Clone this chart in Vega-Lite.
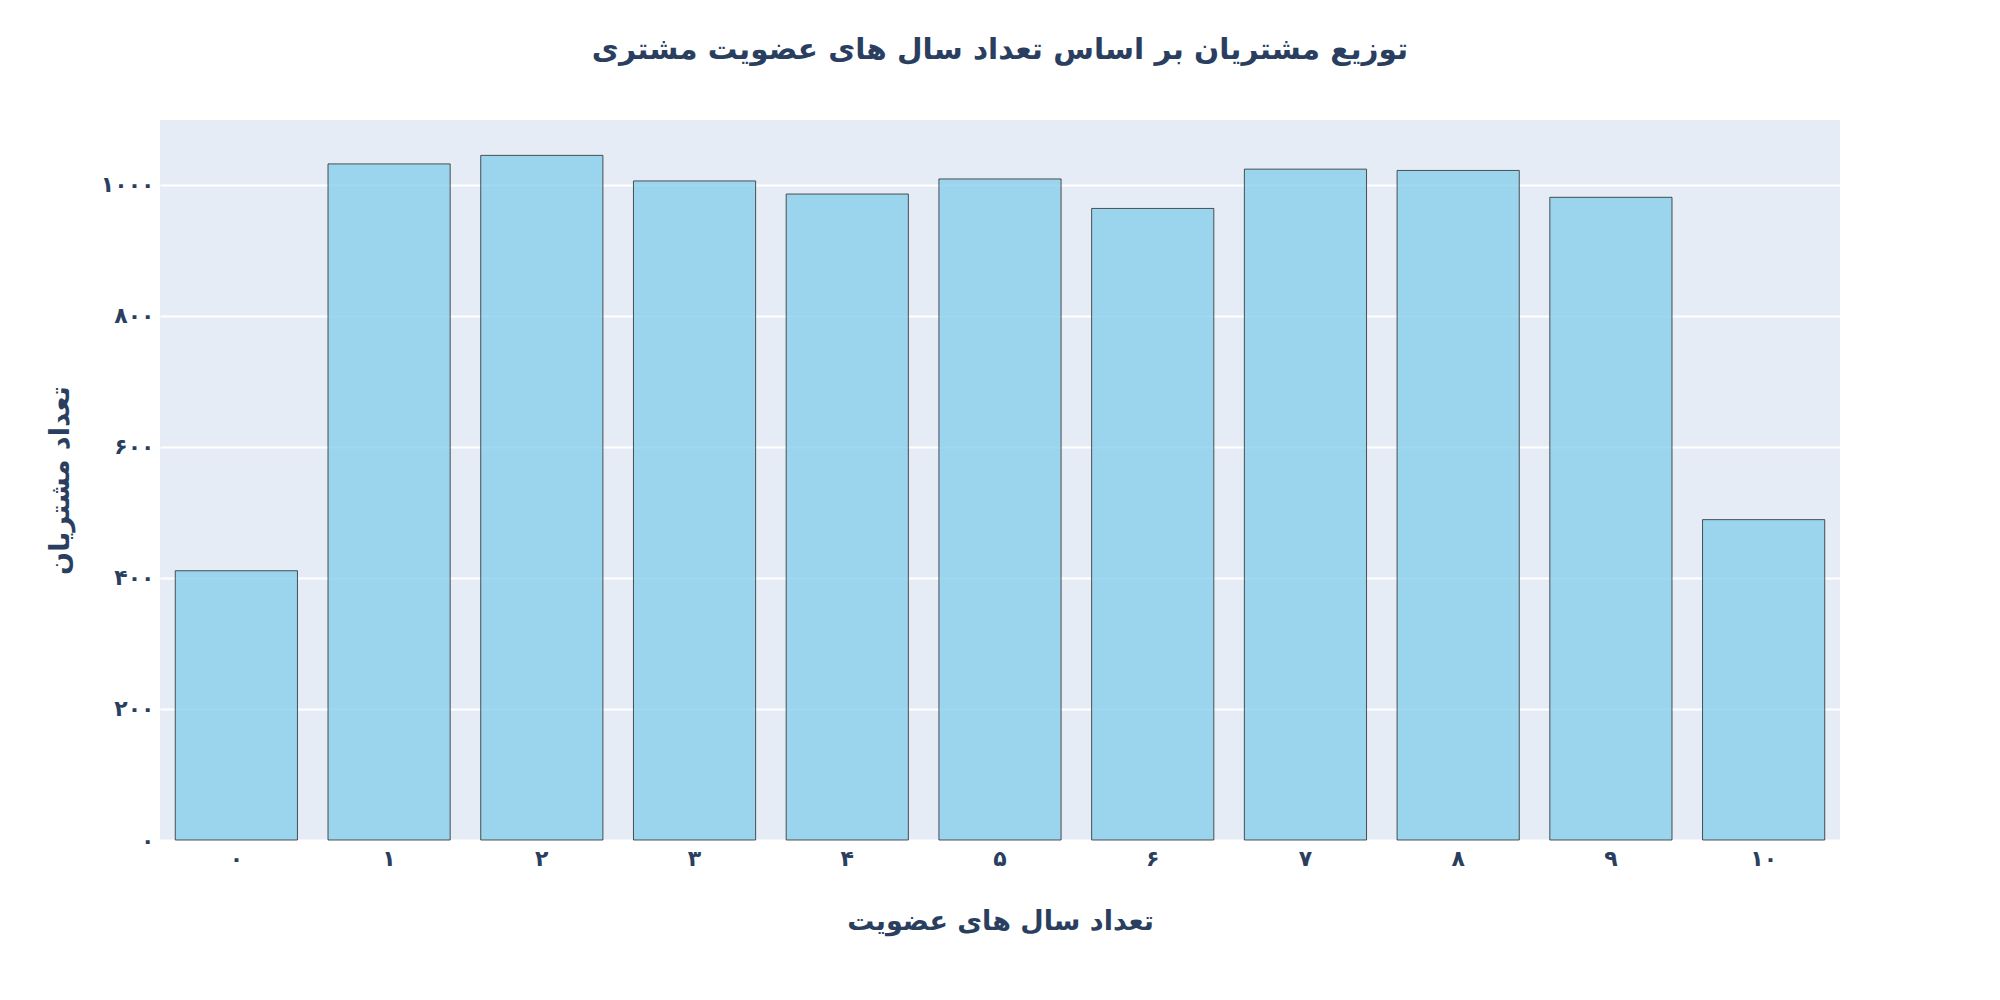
{
  "$schema": "https://vega.github.io/schema/vega-lite/v6.json",
  "autosize": {"type": "none"},
  "padding": {"left": 160, "top": 120, "right": 160, "bottom": 160},
  "width": 1680,
  "height": 720,
  "background": "white",
  "title": {
    "text": "توزیع مشتریان بر اساس تعداد سال های عضویت مشتری",
    "anchor": "middle",
    "font": "DejaVu Sans",
    "fontSize": 29.5,
    "fontWeight": "bold",
    "color": "#2a3f5f",
    "offset": 55
  },
  "config": {
    "view": {"fill": "#E5ECF6", "stroke": null},
    "axis": {
      "labelFont": "DejaVu Sans",
      "labelFontWeight": "bold",
      "labelColor": "#2a3f5f",
      "titleFont": "DejaVu Sans",
      "titleFontWeight": "bold",
      "titleColor": "#2a3f5f",
      "domain": false,
      "ticks": false
    }
  },
  "data": {
    "values": [
      {"years": 0, "count": 411},
      {"years": 1, "count": 1032},
      {"years": 2, "count": 1045},
      {"years": 3, "count": 1006},
      {"years": 4, "count": 986},
      {"years": 5, "count": 1009},
      {"years": 6, "count": 964},
      {"years": 7, "count": 1024},
      {"years": 8, "count": 1022},
      {"years": 9, "count": 981},
      {"years": 10, "count": 489}
    ]
  },
  "mark": {"type": "bar", "fill": "#87CEEB", "fillOpacity": 0.8, "stroke": "#2a2a2a", "strokeWidth": 1, "strokeOpacity": 0.8},
  "encoding": {
    "x": {
      "field": "years",
      "type": "ordinal",
      "scale": {"paddingInner": 0.2, "paddingOuter": 0.1},
      "axis": {
        "title": "تعداد سال های عضویت",
        "titleFontSize": 27,
        "titlePadding": 39,
        "labelFontSize": 22,
        "labelPadding": 8,
        "labelAngle": 0,
        "grid": false,
        "labelExpr": "replace(replace(replace(replace(replace(replace(replace(replace(replace(replace(datum.label, regexp('0','g'), '۰'), regexp('1','g'), '۱'), regexp('2','g'), '۲'), regexp('3','g'), '۳'), regexp('4','g'), '۴'), regexp('5','g'), '۵'), regexp('6','g'), '۶'), regexp('7','g'), '۷'), regexp('8','g'), '۸'), regexp('9','g'), '۹')"
      }
    },
    "y": {
      "field": "count",
      "type": "quantitative",
      "scale": {"domain": [0, 1099], "nice": false},
      "axis": {
        "title": "تعداد مشتریان",
        "titleFontSize": 27,
        "titlePadding": 26,
        "labelFontSize": 22,
        "labelPadding": 6,
        "values": [0, 200, 400, 600, 800, 1000],
        "format": "d",
        "grid": true,
        "gridColor": "white",
        "gridWidth": 2,
        "labelExpr": "replace(replace(replace(replace(replace(replace(replace(replace(replace(replace(datum.label, regexp('0','g'), '۰'), regexp('1','g'), '۱'), regexp('2','g'), '۲'), regexp('3','g'), '۳'), regexp('4','g'), '۴'), regexp('5','g'), '۵'), regexp('6','g'), '۶'), regexp('7','g'), '۷'), regexp('8','g'), '۸'), regexp('9','g'), '۹')"
      }
    }
  }
}
